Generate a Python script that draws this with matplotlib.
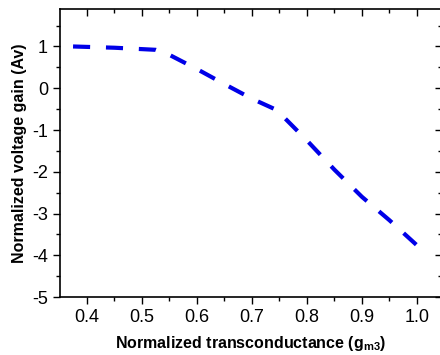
import matplotlib.pyplot as plt
from matplotlib.ticker import MultipleLocator

# values
gm3 = [0.375, 0.45, 0.525, 0.55, 0.6, 0.65, 0.7, 0.745, 0.8, 0.85, 0.9, 0.95, 1.0]
gain = [1.0, 0.97, 0.92, 0.8, 0.46, 0.1, -0.25, -0.52, -1.25, -1.95, -2.6, -3.16, -3.76]

xticks = [0.4, 0.5, 0.6, 0.7, 0.8, 0.9, 1.0]
yticks = [1, 0, -1, -2, -3, -4, -5]

plt.rcParams['font.family'] = 'Liberation Sans'
plt.rcParams['axes.unicode_minus'] = False
plt.rcParams['mathtext.fontset'] = 'custom'
plt.rcParams['mathtext.bf'] = 'Liberation Sans:bold'
plt.rcParams['mathtext.rm'] = 'Liberation Sans:bold'

fig = plt.figure(figsize=(4.4, 3.55), dpi=100)
ax = fig.add_axes([0.136, 0.163, 0.868, 0.812])

ax.plot(gm3, gain, color='#0000e8', lw=3, linestyle=(0, (4.1, 3.8)),
        dash_capstyle='butt')

ax.set_xlim(0.351, 1.045)
ax.set_ylim(-5, 1.9)
ax.set_xticks(xticks)
ax.set_xticklabels([f'{v:.1f}' for v in xticks])
ax.set_yticks(yticks)
ax.xaxis.set_minor_locator(MultipleLocator(0.05))
ax.yaxis.set_minor_locator(MultipleLocator(0.5))

ax.tick_params(which='both', direction='out', bottom=True, left=True,
               labelsize=13, width=1)
ax.tick_params(which='major', length=5)
ax.tick_params(which='minor', length=3)
ax.tick_params(which='both', top=True, right=True)
for t in ax.xaxis.get_major_ticks() + ax.xaxis.get_minor_ticks():
    t.tick2line.set_marker(3)
for t in ax.yaxis.get_major_ticks() + ax.yaxis.get_minor_ticks():
    t.tick2line.set_marker(0)

for s in ax.spines.values():
    s.set_linewidth(1.2)

ax.set_xlabel(r'Normalized transconductance (g$_{\mathregular{m3}}$)',
              fontsize=11.5, fontweight='bold', labelpad=6)
ax.set_ylabel('Normalized voltage gain (Av)', fontsize=11.5,
              fontweight='bold', labelpad=4)

fig.savefig('out.png', dpi=100)
